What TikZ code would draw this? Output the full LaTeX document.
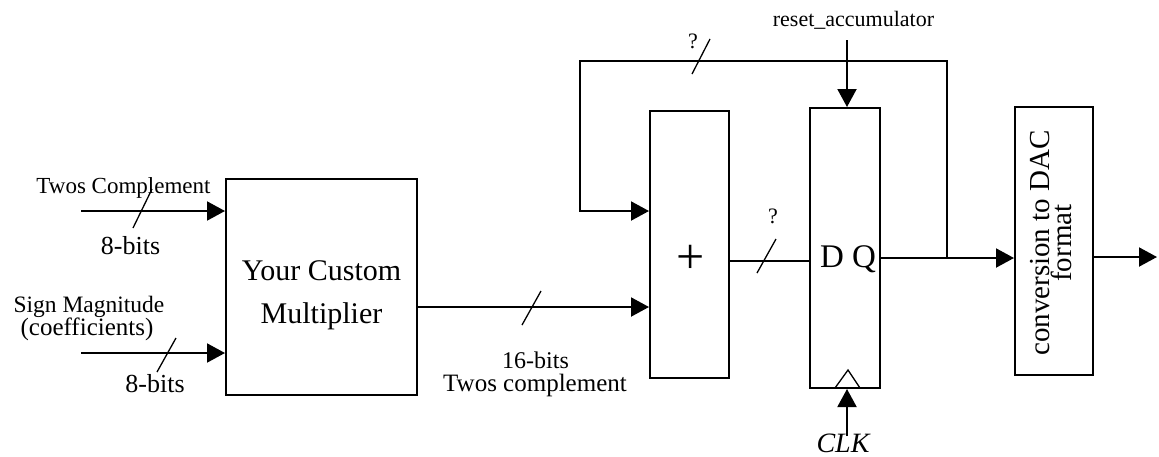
\documentclass[tikz,border=0pt]{standalone}
\usepackage{fontspec}
\setmainfont{Liberation Serif}
\usetikzlibrary{arrows.meta}
\newcommand\myfs[1]{\fontsize{#1}{#1}\selectfont}
\tikzset{
  blk/.style={draw, line width=2pt, inner sep=0pt},
  wire/.style={line width=2pt},
  arr/.style={wire, -{Triangle[length=18pt,width=19pt]}},
  bus/.style={line width=1.3pt},
  lbl/.style={inner sep=0pt, anchor=base},
}
\begin{document}
\begin{tikzpicture}[x=1pt, y=-1pt]
\useasboundingbox (0,0) rectangle (1159,456);

% blocks
\node[blk, minimum width=191pt, minimum height=216pt] (mult) at (321.5,287) {};
\node[inner sep=0pt, align=center, font=\fontsize{30}{43}\selectfont] (multtxt) at (321.5,295.6) {Your Custom\\Multiplier};
\node[blk, minimum width=79pt, minimum height=267pt] (adder) at (689.5,244.5) {};
\node[inner sep=0pt, font=\myfs{50}] (plus) at (691,259) {+};
\node[blk, minimum width=70pt, minimum height=280pt] (dff) at (845,248) {};
\node[lbl, font=\myfs{33}] (dq) at (848,267) {D Q};
\node[blk, minimum width=78pt, minimum height=268pt] (conv) at (1054,241) {};
\node[inner sep=0pt, align=center, rotate=90, font=\fontsize{29}{22}\selectfont] (convtxt) at (1051,243) {conversion to DAC\\format};

% labels
\node[lbl, font=\myfs{23}] (t1) at (123.5,193) {Twos Complement};
\node[lbl, font=\myfs{26}] (b1) at (130.5,254) {8-bits};
\node[lbl, font=\myfs{23.5}] (t2) at (89,312) {Sign Magnitude};
\node[lbl, font=\myfs{25}] (t3) at (87,335) {(coefficients)};
\node[lbl, font=\myfs{26}] (b2) at (155,392) {8-bits};
\node[lbl, font=\myfs{24}] (b3) at (535.5,368) {16-bits};
\node[lbl, font=\myfs{25}] (t4) at (535,391) {Twos complement};
\node[lbl, font=\myfs{22}] (q1) at (693,48) {?};
\node[lbl, font=\myfs{22}] (q2) at (773,223) {?};
\node[lbl, font=\myfs{22}] (rst) at (853.5,26) {reset\_accumulator};
\node[lbl, font=\myfs{28}\itshape] (clk) at (843,452) {CLK};

% coordinates
\coordinate (i1) at (81,211);
\coordinate (i2) at (81,353);
\coordinate (mo) at (0,307);
\coordinate (ao) at (0,261);
\coordinate (jn) at (947,258);
\coordinate (fb1) at (947,61);
\coordinate (fb2) at (580,61);
\coordinate (fb3) at (580,211);
\coordinate (rs) at (847,40);
\coordinate (ck) at (847,436);
\coordinate (oo) at (1157,257);

% connectors
\draw[arr] (i1) -- (i1 -| mult.west);
\draw[arr] (i2) -- (i2 -| mult.west);
\draw[arr] (mult.east |- mo) -- (mo -| adder.west);
\draw[wire] (adder.east |- ao) -- (ao -| dff.west);
\draw[arr] (dff.east |- jn) -- (jn -| conv.west);
\draw[arr] (jn) -- (fb1) -- (fb2) -- (fb3) -- (fb3 -| adder.west);
\draw[arr] (rs) -- (rs |- dff.north);
\draw[arr] (ck) -- (ck |- dff.south);
\draw[arr] (conv.east |- oo) -- (oo);

% bus slashes
\draw[bus] (133,228) -- (152,189);
\draw[bus] (157,372) -- (176,338);
\draw[bus] (522,325) -- (541,291);
\draw[bus] (757,273) -- (776,239);
\draw[bus] (692,74) -- (710,39);

% clock triangle
\draw[bus] (835,388) -- (848,370) -- (860,388);
\end{tikzpicture}
\end{document}
